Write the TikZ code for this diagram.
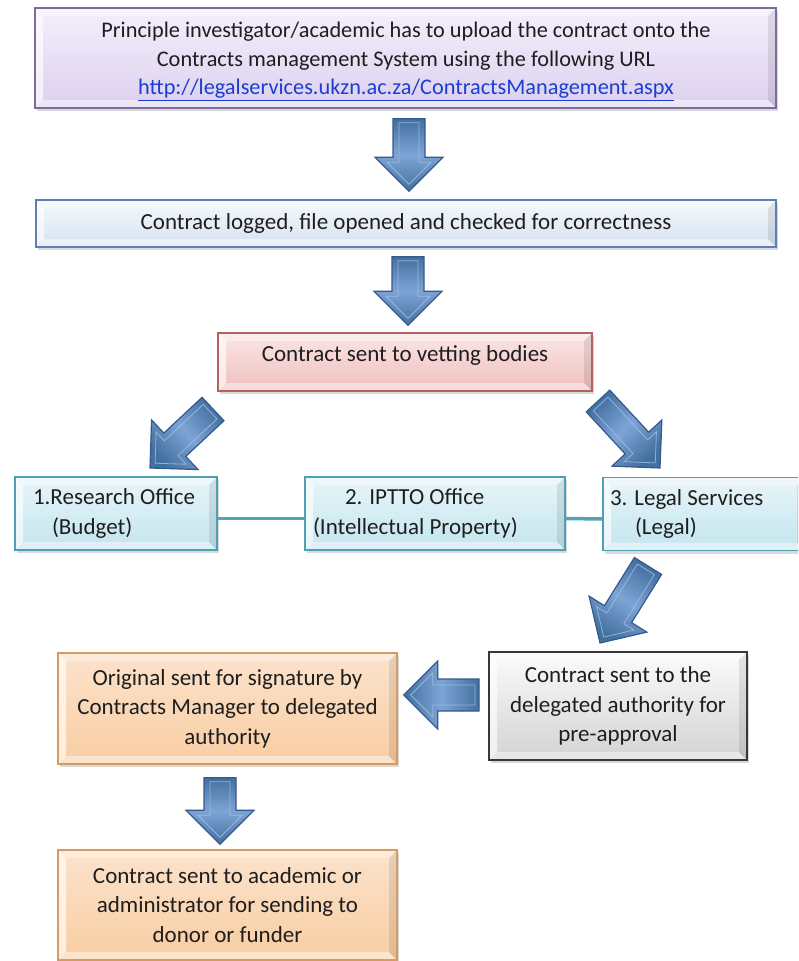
\documentclass[tikz,border=0pt]{standalone}
\usepackage{fontspec}
\setmainfont{Carlito}
\usetikzlibrary{calc,shadows}
\definecolor{txt}{HTML}{1E1E1E}
\definecolor{urlc}{HTML}{1A3FD0}
\definecolor{pBd}{HTML}{7D6B9E}\definecolor{pTop}{HTML}{F4EFFB}\definecolor{pBot}{HTML}{DDD0EF}
\definecolor{bBd}{HTML}{5B80B8}\definecolor{bTop}{HTML}{F6F9FD}\definecolor{bBot}{HTML}{D5E1F0}
\definecolor{rBd}{HTML}{B5615F}\definecolor{rTop}{HTML}{FBE6E6}\definecolor{rBot}{HTML}{EFBEBD}
\definecolor{cBd}{HTML}{4F9FB5}\definecolor{cTop}{HTML}{E8F5F9}\definecolor{cBot}{HTML}{C3E5EE}
\definecolor{gBd}{HTML}{383838}\definecolor{gTop}{HTML}{FBFBFB}\definecolor{gBot}{HTML}{D3D3D3}
\definecolor{oBd}{HTML}{D89A60}\definecolor{oTop}{HTML}{FCE3CC}\definecolor{oBot}{HTML}{F8CDA2}
\definecolor{aDark}{HTML}{42709F}\definecolor{aLight}{HTML}{7EA4D6}\definecolor{aLine}{HTML}{35598C}\definecolor{aHi}{HTML}{A9C4E8}
\definecolor{connC}{HTML}{55A3BA}

\newcommand\boxfont{\fontsize{23}{29.5}\selectfont}
\newcommand\topfont{\fontsize{22.3}{28.5}\selectfont}

\newcommand\blockarrow[3]{% tail, tip, shading angle
  \coordinate (#1hb) at ($(#2)!34pt!(#1)$);
  \path[draw=aLine, line width=1.2pt, line join=miter, left color=aDark, right color=aDark, middle color=aLight, shading angle=#3]
    ($(#1)!16pt!90:(#2)$) -- ($(#1hb)!16pt!90:(#2)$) -- ($(#1hb)!34pt!90:(#2)$) -- (#2)
    -- ($(#1hb)!34pt!-90:(#2)$) -- ($(#1hb)!16pt!-90:(#2)$) -- ($(#1)!16pt!-90:(#2)$) -- cycle;
  \coordinate (#1ti) at ($(#1)!4pt!(#2)$);
  \coordinate (#1pi) at ($(#2)!7pt!(#1)$);
  \coordinate (#1hi) at ($(#2)!29pt!(#1)$);
  \draw[aHi, line width=.8pt, opacity=.75, line join=miter]
    ($(#1ti)!10pt!90:(#2)$) -- ($(#1hi)!10pt!90:(#2)$) -- ($(#1hi)!22pt!90:(#2)$) -- (#1pi)
    -- ($(#1hi)!22pt!-90:(#2)$) -- ($(#1hi)!10pt!-90:(#2)$) -- ($(#1ti)!10pt!-90:(#2)$) -- cycle;
}

\tikzset{
  bevel/.style={path picture={
    \fill[white,opacity=.35] (path picture bounding box.north west) -- (path picture bounding box.north east)
      -- ([xshift=-8pt,yshift=-8pt]path picture bounding box.north east) -- ([xshift=8pt,yshift=-8pt]path picture bounding box.north west) -- cycle;
    \fill[white,opacity=.65] (path picture bounding box.north west) -- ([xshift=8pt,yshift=-8pt]path picture bounding box.north west)
      -- ([xshift=8pt,yshift=8pt]path picture bounding box.south west) -- (path picture bounding box.south west) -- cycle;
    \fill[white,opacity=.45] (path picture bounding box.south west) -- ([xshift=8pt,yshift=8pt]path picture bounding box.south west)
      -- ([xshift=-8pt,yshift=8pt]path picture bounding box.south east) -- (path picture bounding box.south east) -- cycle;
    \fill[black,opacity=.09] (path picture bounding box.south east) -- ([xshift=-8pt,yshift=8pt]path picture bounding box.south east)
      -- ([xshift=-8pt,yshift=-8pt]path picture bounding box.north east) -- (path picture bounding box.north east) -- cycle;
  }},
  flowbox/.style={rectangle, line width=1.6pt, bevel,
    drop shadow={shadow xshift=2pt, shadow yshift=-3pt, opacity=.3},
    font=\boxfont, text=txt, align=center, inner sep=0pt},
  purplebox/.style={flowbox, draw=pBd, top color=pTop, bottom color=pBot},
  bluebox/.style={flowbox, draw=bBd, top color=bTop, bottom color=bBot},
  redbox/.style={flowbox, draw=rBd, top color=rTop, bottom color=rBot},
  cyanbox/.style={flowbox, draw=cBd, top color=cTop, bottom color=cBot, align=flush left, minimum height=73pt},
  graybox/.style={flowbox, draw=gBd, top color=gTop, bottom color=gBot, line width=2pt},
  orangebox/.style={flowbox, draw=oBd, top color=oTop, bottom color=oBot},
  plaintext/.style={font=\boxfont, text=txt, inner sep=0pt, align=center},
  connline/.style={draw=connC, line width=3.5pt},
}

\begin{document}
\begin{tikzpicture}[x=1pt,y=-1pt]
\path[use as bounding box] (0,0) rectangle (798,961);
\clip (0,0) rectangle (798,961);

\coordinate (roC) at (116,513.5);
\coordinate (ipC) at (435,513.5);
\coordinate (lsC) at (704,514);

\node[purplebox, minimum width=741pt, minimum height=100pt] (top) at (405.5,58) {};
\node[plaintext, font=\topfont] (topT) at (406,61.5)
  {Principle investigator/academic has to upload the contract onto the\\
   Contracts management System using the following URL\\
   \textcolor{urlc}{\underline{http://legalservices.ukzn.ac.za/ContractsManagement.aspx}}};

\node[bluebox, minimum width=740pt, minimum height=47pt] (log) at (406,223.5)
  {Contract logged, file opened and checked for correctness};

\node[redbox, minimum width=374pt, minimum height=58pt] (vet) at (405,362) {};
\node[plaintext] (vetT) at (405,355) {Contract sent to vetting bodies};

\node[cyanbox, minimum width=202pt, text width=166pt, inner xsep=18pt] (ro) at (roC)
  {1.Research Office\\\hspace*{19pt}(Budget)};
\node[cyanbox, minimum width=260pt, text width=244pt, inner xsep=8pt] (ip) at (ipC)
  {\hspace*{32pt}2. IPTTO Office\\(Intellectual Property)};
\node[cyanbox, minimum width=202pt, text width=188pt, inner xsep=7pt] (ls) at (lsC)
  {3. Legal Services\\\hspace*{25pt}(Legal)};

\draw[connline] ([yshift=-5pt]ro.east) -- ([yshift=-5pt]ip.west);
\draw[connline] ([yshift=-5pt]ip.east) -- ([yshift=-5pt]ls.west);

\node[graybox, minimum width=258pt, minimum height=108pt] (pre) at (618,706)
  {Contract sent to the\\delegated authority for\\pre-approval};

\node[orangebox, minimum width=339pt, minimum height=111pt] (orig) at (227.5,708.5)
  {Original sent for signature by\\Contracts Manager to delegated\\authority};

\node[orangebox, minimum width=339pt, minimum height=110pt] (final) at (227.5,905)
  {Contract sent to academic or\\administrator for sending to\\donor or funder};

% block arrows
\coordinate (a1t) at ($(top.south)+(3.5,10)$);
\coordinate (a1p) at ($(log.north)+(3,-8)$);
\blockarrow{a1t}{a1p}{0}

\coordinate (a2t) at ($(log.south)+(2,9)$);
\coordinate (a2p) at ($(vet.north)+(3,-7)$);
\blockarrow{a2t}{a2p}{0}

\coordinate (a3t) at (213,409);
\coordinate (a3p) at (150,468);
\blockarrow{a3t}{a3p}{-48}

\coordinate (a4t) at (598,401);
\coordinate (a4p) at (660,468);
\blockarrow{a4t}{a4p}{43}

\coordinate (a5t) at (648,566);
\coordinate (a5p) at (600,643);
\blockarrow{a5t}{a5p}{-32}

\coordinate (a6t) at ($(pre.west)+(-9,-11)$);
\coordinate (a6p) at ($(orig.east)+(6,-13.5)$);
\blockarrow{a6t}{a6p}{90}

\coordinate (a7t) at ($(orig.south)+(-7.5,13)$);
\coordinate (a7p) at ($(final.north)+(-7.5,-5)$);
\blockarrow{a7t}{a7p}{0}
\end{tikzpicture}
\end{document}
